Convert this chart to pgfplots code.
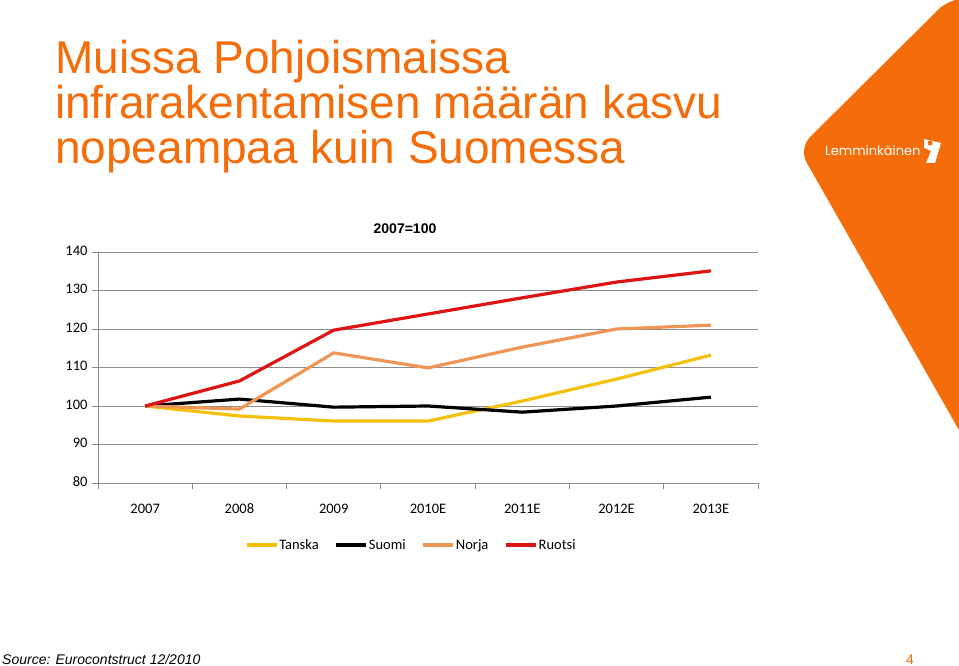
\documentclass[border=0pt]{standalone}
\usepackage{fontspec}
\setmainfont{Liberation Sans}
\newfontfamily\carlito{Carlito}
\newfontfamily\poppins{Poppins}
\usepackage{pgfplots}
\pgfplotsset{compat=1.18}

\definecolor{lorange}{RGB}{245,108,10}
\definecolor{gridgray}{RGB}{140,140,140}
\definecolor{tanska}{RGB}{245,192,10}
\definecolor{norja}{RGB}{240,150,85}
\definecolor{ruotsi}{RGB}{222,20,20}

\begin{document}
\begin{tikzpicture}
\useasboundingbox (0pt,0pt) rectangle (959pt,-666pt);

% background shape and texts, in pixel units (y down)
\begin{scope}[x=1pt,y=-1pt]
\begin{scope}
\clip (0,0) rectangle (959,666);
\fill[lorange, rounded corners=16pt] (1010,-2) -- (950,-2) -- (798.6,148.4) -- (980,467) -- (1010,467) -- cycle;
\end{scope}
\node[anchor=base west, inner sep=0pt, text=white, font=\poppins\fontsize{13}{15}\selectfont] at (825,156) {Lemminkäinen};
\fill[white] (924,139) -- (941,143) -- (935,163) -- (926,163) -- (931,151) -- (924,148) -- cycle;
\fill[lorange] (930,143) circle (2.5);

\foreach \t/\yy in {Muissa Pohjoismaissa/74, infrarakentamisen määrän kasvu/119, nopeampaa kuin Suomessa/164}
  \node[anchor=base west, inner sep=0pt, text=lorange, font=\fontsize{46}{46}\selectfont] at (55,\yy) {\t};

\node[font=\bfseries\fontsize{14}{16}\selectfont] at (405,229) {2007=100};
\node[anchor=base west, inner sep=0pt, font=\itshape\fontsize{14}{16}\selectfont] at (2,664) {Source: Eurocontstruct 12/2010};
\node[anchor=base, inner sep=0pt, text=lorange, font=\fontsize{14}{16}\selectfont] at (910,664) {4};
\end{scope}

\begin{axis}[
    at={(98pt,-483pt)}, anchor=south west,
    scale only axis,
    width=660pt, height=231pt,
    xmin=-0.5, xmax=6.5,
    ymin=80, ymax=140,
    xtick={0,...,6},
    xticklabels={2007,2008,2009,2010E,2011E,2012E,2013E},
    ytick={80,90,...,140},
    minor xtick={-0.5,0.5,...,6.5},
    minor ytick={80,90,...,140},
    major tick length=0pt,
    minor tick length=6pt,
    tick align=outside,
    axis x line*=bottom,
    axis y line*=left,
    axis line style={draw=gridgray, line width=0.8pt, -},
    tick style={draw=gridgray, line width=0.8pt},
    ymajorgrids=true,
    major grid style={draw=gridgray, line width=0.8pt},
    minor grid style={draw=none},
    /pgf/number format/assume math mode=true,
    typeset ticklabels with strut,
    ticklabel style={font=\carlito\fontsize{14.5}{16}\selectfont},
    xticklabel style={yshift=-16pt},
    yticklabel style={xshift=-7pt},
    legend columns=4,
    legend style={at={(0.474,-0.268)}, anchor=center, draw=none,
        font=\carlito\fontsize{14.5}{16}\selectfont,
        /tikz/every even column/.append style={column sep=15pt},
        nodes={inner sep=1pt}},
    legend image code/.code={\draw[#1] (0pt,0pt) -- (30pt,0pt);},
    every axis plot/.append style={line width=3.2pt},
]
\addplot[tanska] coordinates {(0,100) (1,97.4) (2,96.1) (3,96.1) (4,101.3) (5,107) (6,113.2)};
\addplot[black] coordinates {(0,100) (1,101.8) (2,99.7) (3,100) (4,98.4) (5,100) (6,102.3)};
\addplot[norja] coordinates {(0,100) (1,99.2) (2,113.8) (3,109.9) (4,115.3) (5,120) (6,121)};
\addplot[ruotsi] coordinates {(0,100) (1,106.5) (2,119.7) (3,123.9) (4,128.1) (5,132.2) (6,135.1)};
\legend{Tanska, Suomi, Norja, Ruotsi}
\end{axis}
\end{tikzpicture}
\end{document}
